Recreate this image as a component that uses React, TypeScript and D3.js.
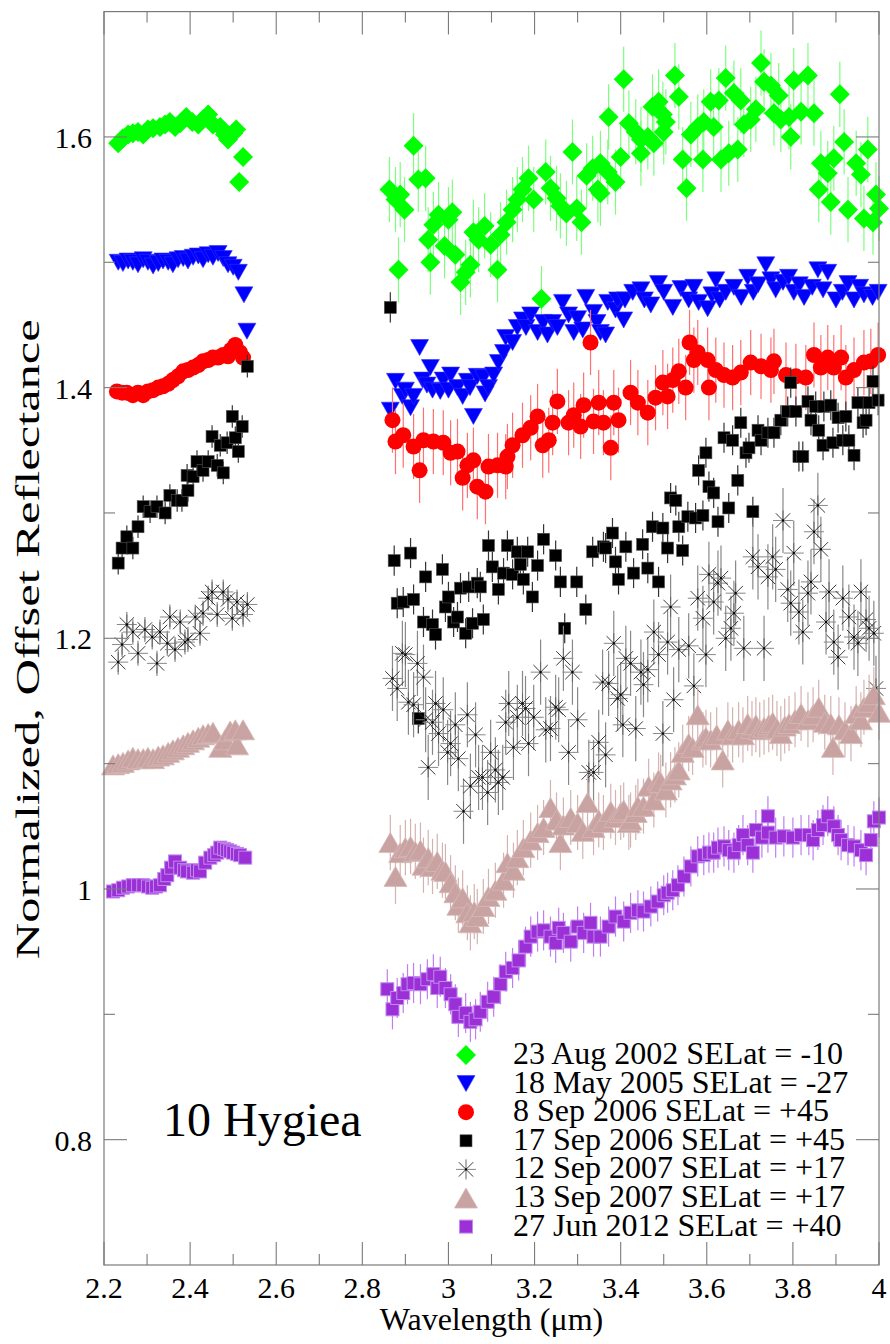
import React from 'react';
import * as d3 from 'd3';

type P = [number, number];

// ---------- data (wavelength µm, normalized offset reflectance) ----------
const greenLeft: P[] = [
  [2.233, 1.595], [2.244, 1.599], [2.256, 1.602], [2.267, 1.603], [2.279, 1.604], [2.291, 1.602],
  [2.302, 1.606], [2.314, 1.607], [2.330, 1.608], [2.342, 1.610], [2.353, 1.612], [2.365, 1.608],
  [2.377, 1.611], [2.391, 1.616], [2.405, 1.612], [2.419, 1.610], [2.430, 1.614], [2.442, 1.618],
  [2.453, 1.610], [2.470, 1.608], [2.481, 1.602], [2.488, 1.598], [2.500, 1.603], [2.507, 1.606],
  [2.523, 1.584], [2.514, 1.564],
];
const greenRight: P[] = [
  [2.863, 1.558], [2.877, 1.550], [2.888, 1.554], [2.898, 1.542], [2.884, 1.494], [2.919, 1.593],
  [2.930, 1.566], [2.947, 1.567], [2.958, 1.500], [2.953, 1.518], [2.965, 1.530], [2.977, 1.538],
  [2.991, 1.513], [3.000, 1.534], [3.009, 1.540], [3.016, 1.506], [3.028, 1.484], [3.040, 1.492],
  [3.051, 1.498], [3.058, 1.524], [3.070, 1.518], [3.084, 1.529], [3.098, 1.514], [3.114, 1.494],
  [3.121, 1.522], [3.135, 1.532], [3.149, 1.542], [3.160, 1.550], [3.172, 1.558], [3.186, 1.567],
  [3.198, 1.550], [3.216, 1.471], [3.226, 1.572], [3.237, 1.559], [3.251, 1.551], [3.260, 1.545],
  [3.274, 1.539], [3.288, 1.588], [3.298, 1.543], [3.309, 1.532], [3.321, 1.569], [3.335, 1.575],
  [3.347, 1.558], [3.353, 1.579], [3.353, 1.555], [3.370, 1.572], [3.372, 1.616], [3.388, 1.564],
  [3.400, 1.584], [3.407, 1.646], [3.419, 1.611], [3.435, 1.604], [3.447, 1.598], [3.447, 1.587],
  [3.463, 1.600], [3.474, 1.624], [3.477, 1.595], [3.488, 1.628], [3.498, 1.618], [3.500, 1.604],
  [3.505, 1.612], [3.526, 1.649], [3.535, 1.632], [3.544, 1.582], [3.553, 1.559], [3.563, 1.602],
  [3.579, 1.608], [3.591, 1.582], [3.593, 1.612], [3.609, 1.628], [3.616, 1.608], [3.628, 1.629],
  [3.633, 1.582], [3.644, 1.647], [3.651, 1.587], [3.663, 1.635], [3.672, 1.590], [3.679, 1.629],
  [3.686, 1.610], [3.702, 1.614], [3.714, 1.622], [3.726, 1.659], [3.733, 1.644], [3.749, 1.641],
  [3.756, 1.619], [3.767, 1.633], [3.772, 1.614], [3.791, 1.616], [3.795, 1.600], [3.802, 1.645],
  [3.819, 1.620], [3.835, 1.649], [3.849, 1.619], [3.860, 1.558], [3.865, 1.579], [3.881, 1.571],
  [3.888, 1.548], [3.895, 1.583], [3.909, 1.634], [3.919, 1.596], [3.928, 1.542], [3.947, 1.579],
  [3.958, 1.570], [3.965, 1.535], [3.974, 1.590], [3.986, 1.532], [3.993, 1.554], [4.000, 1.543],
];

const blueLeft: P[] = [
  [2.233, 1.500], [2.244, 1.499], [2.256, 1.501], [2.267, 1.500], [2.279, 1.498], [2.291, 1.502],
  [2.302, 1.500], [2.314, 1.497], [2.326, 1.499], [2.337, 1.501], [2.349, 1.500], [2.360, 1.498],
  [2.372, 1.502], [2.384, 1.503], [2.395, 1.501], [2.407, 1.504], [2.419, 1.505], [2.430, 1.502],
  [2.442, 1.506], [2.453, 1.504], [2.465, 1.507], [2.477, 1.503], [2.488, 1.498], [2.500, 1.496],
  [2.512, 1.492], [2.525, 1.474], [2.532, 1.445],
];
const blueRight: P[] = [
  [2.865, 1.382], [2.877, 1.405], [2.893, 1.393], [2.900, 1.398], [2.912, 1.384], [2.919, 1.393],
  [2.933, 1.432], [2.940, 1.406], [2.950, 1.402], [2.958, 1.416], [2.963, 1.398], [2.981, 1.397],
  [2.988, 1.406], [3.000, 1.398], [3.005, 1.410], [3.021, 1.400], [3.033, 1.393], [3.044, 1.405],
  [3.050, 1.400], [3.058, 1.377], [3.067, 1.409], [3.081, 1.408], [3.085, 1.395], [3.093, 1.400],
  [3.105, 1.410], [3.116, 1.420], [3.128, 1.428], [3.133, 1.440], [3.149, 1.436], [3.160, 1.448],
  [3.172, 1.454], [3.180, 1.448], [3.191, 1.458], [3.207, 1.444], [3.220, 1.452], [3.230, 1.442],
  [3.242, 1.452], [3.253, 1.448], [3.265, 1.468], [3.279, 1.458], [3.291, 1.444], [3.300, 1.455],
  [3.312, 1.446], [3.319, 1.472], [3.337, 1.460], [3.345, 1.452], [3.353, 1.444], [3.365, 1.442],
  [3.370, 1.468], [3.388, 1.462], [3.393, 1.470], [3.407, 1.454], [3.410, 1.470], [3.428, 1.476],
  [3.447, 1.478], [3.455, 1.470], [3.470, 1.466], [3.488, 1.483], [3.500, 1.476], [3.521, 1.464],
  [3.540, 1.479], [3.558, 1.470], [3.570, 1.480], [3.581, 1.468], [3.602, 1.463], [3.612, 1.474],
  [3.621, 1.486], [3.630, 1.470], [3.644, 1.476], [3.663, 1.480], [3.680, 1.472], [3.695, 1.488],
  [3.708, 1.476], [3.719, 1.482], [3.737, 1.498], [3.749, 1.486], [3.760, 1.478], [3.777, 1.484],
  [3.790, 1.488], [3.802, 1.476], [3.815, 1.482], [3.826, 1.472], [3.845, 1.480], [3.858, 1.494],
  [3.870, 1.478], [3.881, 1.492], [3.900, 1.470], [3.915, 1.476], [3.928, 1.483], [3.942, 1.470],
  [3.955, 1.480], [3.965, 1.474], [3.985, 1.472], [3.998, 1.476],
];

const redLeft: P[] = [
  [2.230, 1.397], [2.242, 1.396], [2.253, 1.396], [2.267, 1.394], [2.279, 1.396], [2.291, 1.394],
  [2.302, 1.397], [2.314, 1.398], [2.326, 1.400], [2.337, 1.401], [2.349, 1.403], [2.360, 1.406],
  [2.372, 1.409], [2.384, 1.413], [2.395, 1.414], [2.407, 1.416], [2.419, 1.418], [2.430, 1.421],
  [2.442, 1.422], [2.453, 1.424], [2.465, 1.424], [2.477, 1.426], [2.488, 1.425], [2.495, 1.430],
  [2.505, 1.434], [2.516, 1.428], [2.523, 1.424],
];
const redRight: P[] = [
  [2.870, 1.374], [2.877, 1.357], [2.895, 1.362], [2.919, 1.353], [2.933, 1.334], [2.942, 1.358],
  [2.965, 1.357], [2.988, 1.356], [3.005, 1.348], [3.021, 1.349], [3.033, 1.328], [3.044, 1.338],
  [3.058, 1.342], [3.067, 1.321], [3.086, 1.317], [3.093, 1.337], [3.114, 1.338], [3.133, 1.337],
  [3.137, 1.345], [3.149, 1.354], [3.172, 1.362], [3.191, 1.368], [3.207, 1.377], [3.219, 1.354],
  [3.233, 1.358], [3.242, 1.372], [3.253, 1.389], [3.279, 1.372], [3.291, 1.378], [3.307, 1.369],
  [3.314, 1.386], [3.330, 1.436], [3.337, 1.373], [3.349, 1.388], [3.360, 1.372], [3.377, 1.352],
  [3.384, 1.388], [3.395, 1.374], [3.423, 1.396], [3.440, 1.388], [3.463, 1.380], [3.481, 1.392],
  [3.498, 1.404], [3.509, 1.393], [3.521, 1.406], [3.535, 1.413], [3.551, 1.400], [3.560, 1.436],
  [3.570, 1.422], [3.579, 1.428], [3.602, 1.422], [3.605, 1.400], [3.621, 1.414], [3.640, 1.410],
  [3.660, 1.408], [3.679, 1.412], [3.702, 1.420], [3.726, 1.417], [3.749, 1.414], [3.756, 1.421],
  [3.784, 1.410], [3.807, 1.409], [3.830, 1.408], [3.849, 1.426], [3.865, 1.416], [3.881, 1.424],
  [3.895, 1.416], [3.912, 1.424], [3.923, 1.408], [3.942, 1.414], [3.965, 1.420], [3.981, 1.421],
  [3.998, 1.426],
];

const blackLeft: P[] = [
  [2.233, 1.260], [2.242, 1.272], [2.253, 1.281], [2.267, 1.272], [2.279, 1.289], [2.291, 1.305],
  [2.307, 1.301], [2.323, 1.305], [2.342, 1.300], [2.353, 1.314], [2.370, 1.310], [2.381, 1.310],
  [2.393, 1.330], [2.395, 1.318], [2.407, 1.329], [2.416, 1.341], [2.430, 1.334], [2.442, 1.341],
  [2.451, 1.361], [2.463, 1.338], [2.470, 1.354], [2.477, 1.332], [2.486, 1.356], [2.498, 1.377],
  [2.505, 1.360], [2.512, 1.349], [2.521, 1.369], [2.533, 1.417],
];
const blackRight: P[] = [
  [2.865, 1.464], [2.874, 1.262], [2.881, 1.228], [2.895, 1.229], [2.912, 1.268], [2.919, 1.231],
  [2.930, 1.136], [2.942, 1.213], [2.947, 1.249], [2.963, 1.211], [2.970, 1.203], [2.986, 1.255],
  [2.993, 1.225], [3.000, 1.233], [3.012, 1.213], [3.021, 1.217], [3.028, 1.240], [3.040, 1.204],
  [3.047, 1.241], [3.056, 1.212], [3.067, 1.244], [3.074, 1.241], [3.081, 1.215], [3.093, 1.274],
  [3.102, 1.257], [3.116, 1.239], [3.128, 1.252], [3.137, 1.274], [3.149, 1.251], [3.160, 1.269],
  [3.167, 1.259], [3.174, 1.247], [3.184, 1.269], [3.195, 1.233], [3.207, 1.258], [3.221, 1.279],
  [3.249, 1.266], [3.260, 1.245], [3.270, 1.208], [3.298, 1.245], [3.319, 1.223], [3.335, 1.269],
  [3.360, 1.273], [3.365, 1.272], [3.381, 1.284], [3.388, 1.261], [3.395, 1.247], [3.412, 1.273],
  [3.430, 1.252], [3.451, 1.275], [3.463, 1.256], [3.474, 1.289], [3.488, 1.245], [3.498, 1.288],
  [3.509, 1.272], [3.516, 1.312], [3.528, 1.310], [3.535, 1.289], [3.544, 1.270], [3.556, 1.297],
  [3.574, 1.296], [3.581, 1.334], [3.591, 1.298], [3.598, 1.348], [3.605, 1.321], [3.616, 1.316],
  [3.626, 1.293], [3.640, 1.360], [3.651, 1.304], [3.660, 1.358], [3.672, 1.326], [3.679, 1.372],
  [3.691, 1.348], [3.698, 1.352], [3.707, 1.301], [3.719, 1.366], [3.726, 1.358], [3.742, 1.364],
  [3.756, 1.364], [3.772, 1.374], [3.788, 1.381], [3.795, 1.404], [3.807, 1.381], [3.814, 1.345],
  [3.823, 1.345], [3.835, 1.389], [3.842, 1.374], [3.853, 1.385], [3.860, 1.366], [3.872, 1.385],
  [3.888, 1.386], [3.870, 1.354], [3.893, 1.356], [3.905, 1.376], [3.916, 1.358], [3.923, 1.377],
  [3.930, 1.358], [3.942, 1.346], [3.951, 1.388], [3.963, 1.372], [3.970, 1.374], [3.977, 1.388],
  [3.986, 1.405], [3.998, 1.390],
];

const starLeft: P[] = [
  [2.233, 1.181], [2.242, 1.195], [2.253, 1.211], [2.267, 1.205], [2.279, 1.188], [2.295, 1.207],
  [2.312, 1.201], [2.323, 1.180], [2.330, 1.205], [2.347, 1.196], [2.353, 1.217], [2.365, 1.191],
  [2.377, 1.213], [2.388, 1.197], [2.395, 1.199], [2.412, 1.217], [2.423, 1.204], [2.430, 1.220],
  [2.442, 1.232], [2.451, 1.237], [2.463, 1.219], [2.477, 1.237], [2.488, 1.231], [2.498, 1.216],
  [2.509, 1.229], [2.523, 1.219], [2.533, 1.227],
];
const starRight: P[] = [
  [2.870, 1.168], [2.881, 1.160], [2.893, 1.188], [2.900, 1.187], [2.907, 1.149], [2.919, 1.147],
  [2.928, 1.180], [2.942, 1.169], [2.947, 1.135], [2.953, 1.097], [2.963, 1.133], [2.970, 1.148],
  [2.977, 1.124], [2.988, 1.143], [2.998, 1.109], [3.005, 1.116], [3.016, 1.131], [3.023, 1.104],
  [3.035, 1.062], [3.044, 1.139], [3.051, 1.082], [3.063, 1.123], [3.070, 1.089], [3.079, 1.089],
  [3.091, 1.077], [3.098, 1.109], [3.109, 1.095], [3.116, 1.085], [3.126, 1.089], [3.133, 1.133],
  [3.140, 1.148], [3.151, 1.113], [3.160, 1.137], [3.172, 1.148], [3.179, 1.144], [3.186, 1.116],
  [3.198, 1.137], [3.214, 1.173], [3.226, 1.127], [3.237, 1.128], [3.249, 1.145], [3.256, 1.143],
  [3.267, 1.184], [3.279, 1.109], [3.288, 1.173], [3.300, 1.135], [3.326, 1.093], [3.337, 1.093],
  [3.349, 1.117], [3.358, 1.165], [3.365, 1.107], [3.372, 1.164], [3.384, 1.196], [3.393, 1.152],
  [3.400, 1.155], [3.405, 1.131], [3.412, 1.184], [3.423, 1.180], [3.435, 1.128], [3.447, 1.173],
  [3.453, 1.163], [3.463, 1.175], [3.477, 1.205], [3.488, 1.187], [3.498, 1.124], [3.509, 1.197],
  [3.516, 1.225], [3.523, 1.151], [3.535, 1.191], [3.558, 1.194], [3.570, 1.162], [3.579, 1.232],
  [3.591, 1.216], [3.598, 1.187], [3.605, 1.251], [3.616, 1.229], [3.626, 1.244], [3.633, 1.248],
  [3.644, 1.200], [3.656, 1.208], [3.663, 1.220], [3.667, 1.236], [3.686, 1.192], [3.707, 1.265],
  [3.719, 1.257], [3.733, 1.192], [3.742, 1.249], [3.753, 1.265], [3.760, 1.255], [3.777, 1.294],
  [3.788, 1.239], [3.795, 1.228], [3.802, 1.268], [3.814, 1.221], [3.823, 1.205], [3.835, 1.236],
  [3.842, 1.245], [3.849, 1.285], [3.858, 1.306], [3.865, 1.271], [3.877, 1.213], [3.884, 1.237],
  [3.895, 1.197], [3.905, 1.185], [3.916, 1.232], [3.930, 1.217], [3.942, 1.201], [3.951, 1.196],
  [3.958, 1.237], [3.970, 1.215], [3.977, 1.208], [3.988, 1.204], [3.993, 1.160],
];

const pinkLeft: P[] = [
  [2.221, 1.099], [2.233, 1.100], [2.244, 1.101], [2.256, 1.103], [2.267, 1.105], [2.279, 1.104],
  [2.291, 1.104], [2.302, 1.105], [2.314, 1.104], [2.326, 1.106], [2.337, 1.107], [2.349, 1.109],
  [2.360, 1.111], [2.372, 1.113], [2.384, 1.115], [2.395, 1.117], [2.407, 1.119], [2.419, 1.121],
  [2.430, 1.123], [2.442, 1.124], [2.453, 1.125], [2.470, 1.113], [2.481, 1.119], [2.493, 1.126],
  [2.505, 1.127], [2.509, 1.115], [2.523, 1.127],
];
const pinkRight: P[] = [
  [2.865, 1.037], [2.877, 1.010], [2.888, 1.029], [2.900, 1.033], [2.912, 1.034], [2.923, 1.030],
  [2.935, 1.031], [2.942, 1.019], [2.953, 1.025], [2.963, 1.018], [2.974, 1.022], [2.986, 1.015],
  [2.993, 1.014], [3.005, 1.005], [3.016, 0.997], [3.023, 0.987], [3.033, 0.993], [3.044, 0.981],
  [3.051, 0.973], [3.060, 0.982], [3.067, 0.978], [3.081, 0.986], [3.093, 0.994], [3.109, 0.999],
  [3.128, 1.007], [3.137, 1.021], [3.151, 1.015], [3.160, 1.025], [3.174, 1.033], [3.191, 1.039],
  [3.207, 1.045], [3.221, 1.049], [3.237, 1.065], [3.251, 1.055], [3.260, 1.037], [3.267, 1.051],
  [3.284, 1.057], [3.300, 1.053], [3.312, 1.046], [3.323, 1.069], [3.337, 1.049], [3.349, 1.055],
  [3.360, 1.053], [3.377, 1.062], [3.388, 1.057], [3.400, 1.061], [3.407, 1.063], [3.419, 1.053],
  [3.423, 1.055], [3.435, 1.061], [3.440, 1.066], [3.453, 1.066], [3.465, 1.082], [3.477, 1.071],
  [3.488, 1.087], [3.493, 1.085], [3.505, 1.079], [3.516, 1.087], [3.526, 1.091], [3.535, 1.095],
  [3.544, 1.109], [3.558, 1.116], [3.567, 1.113], [3.579, 1.139], [3.591, 1.119], [3.598, 1.121],
  [3.609, 1.119], [3.623, 1.123], [3.637, 1.103], [3.649, 1.127], [3.660, 1.123], [3.674, 1.127],
  [3.684, 1.123], [3.695, 1.132], [3.705, 1.128], [3.714, 1.131], [3.723, 1.127], [3.733, 1.129],
  [3.744, 1.131], [3.753, 1.133], [3.763, 1.128], [3.772, 1.124], [3.781, 1.130], [3.791, 1.132],
  [3.805, 1.135], [3.819, 1.140], [3.835, 1.135], [3.847, 1.139], [3.860, 1.145], [3.874, 1.133],
  [3.888, 1.132], [3.893, 1.113], [3.907, 1.131], [3.921, 1.127], [3.935, 1.124], [3.947, 1.140],
  [3.958, 1.135], [3.965, 1.145], [3.977, 1.149], [3.988, 1.155], [4.000, 1.141],
];

const purpleLeft: P[] = [
  [2.221, 0.998], [2.233, 0.999], [2.244, 1.001], [2.256, 1.002], [2.267, 1.003], [2.279, 1.003],
  [2.291, 1.003], [2.302, 1.002], [2.312, 1.001], [2.321, 1.002], [2.330, 1.003], [2.340, 1.008],
  [2.347, 1.011], [2.356, 1.017], [2.365, 1.022], [2.377, 1.017], [2.386, 1.015], [2.393, 1.014],
  [2.407, 1.013], [2.416, 1.015], [2.423, 1.014], [2.435, 1.021], [2.447, 1.025], [2.456, 1.027],
  [2.463, 1.029], [2.470, 1.033], [2.479, 1.032], [2.486, 1.031], [2.493, 1.030], [2.500, 1.029],
  [2.509, 1.028], [2.516, 1.027], [2.528, 1.025],
];
const purpleRight: P[] = [
  [2.858, 0.920], [2.870, 0.904], [2.881, 0.913], [2.895, 0.917], [2.905, 0.924], [2.919, 0.925],
  [2.935, 0.924], [2.951, 0.928], [2.965, 0.932], [2.974, 0.921], [2.981, 0.930], [2.993, 0.921],
  [3.005, 0.916], [3.016, 0.908], [3.023, 0.898], [3.040, 0.901], [3.051, 0.894], [3.063, 0.896],
  [3.074, 0.902], [3.091, 0.910], [3.105, 0.914], [3.121, 0.924], [3.133, 0.934], [3.149, 0.937],
  [3.163, 0.943], [3.179, 0.954], [3.191, 0.962], [3.207, 0.966], [3.221, 0.967], [3.237, 0.962],
  [3.249, 0.957], [3.256, 0.969], [3.267, 0.965], [3.284, 0.958], [3.300, 0.970], [3.314, 0.965],
  [3.330, 0.973], [3.337, 0.962], [3.353, 0.962], [3.372, 0.970], [3.388, 0.978], [3.407, 0.974],
  [3.423, 0.981], [3.440, 0.983], [3.453, 0.982], [3.470, 0.986], [3.486, 0.990], [3.500, 0.995],
  [3.509, 0.997], [3.521, 0.999], [3.533, 1.003], [3.547, 1.010], [3.563, 1.018], [3.579, 1.026],
  [3.593, 1.027], [3.605, 1.029], [3.616, 1.029], [3.626, 1.033], [3.640, 1.034], [3.651, 1.031],
  [3.663, 1.029], [3.674, 1.035], [3.684, 1.043], [3.695, 1.035], [3.707, 1.029], [3.714, 1.047],
  [3.728, 1.041], [3.742, 1.058], [3.742, 1.045], [3.760, 1.041], [3.779, 1.042], [3.800, 1.041],
  [3.819, 1.043], [3.837, 1.043], [3.847, 1.039], [3.858, 1.047], [3.870, 1.051], [3.881, 1.058],
  [3.895, 1.050], [3.905, 1.043], [3.912, 1.039], [3.928, 1.035], [3.942, 1.034], [3.958, 1.031],
  [3.970, 1.027], [3.981, 1.039], [3.988, 1.054], [4.000, 1.057],
];

// half-length of the vertical error bars: [short-wave segment, long-wave segment]
const errGreen = [0.004, 0.026];
const errBlue = [0.002, 0.006];
const errRed = [0.004, 0.026];
const errBlack = [0.009, 0.012];
const errStar = [0.01, 0.026];
const errPink = [0.004, 0.022];
const errPurple = [0.004, 0.016];

const legendLabels = [
  '23 Aug 2002 SELat = -10',
  '18 May 2005 SELat = -27',
  '8 Sep 2006 SELat = +45',
  '17 Sep 2006 SELat = +45',
  '12 Sep 2007 SELat = +17',
  '13 Sep 2007 SELat = +17',
  '27 Jun 2012 SELat = +40',
];

const xMajorTicks = [2.2, 2.4, 2.6, 2.8, 3.0, 3.2, 3.4, 3.6, 3.8, 4.0];
const xMinorTicks = [2.3, 2.5, 2.7, 2.9, 3.1, 3.3, 3.5, 3.7, 3.9];
const yMajorTicks = [0.8, 1.0, 1.2, 1.4, 1.6];
const yMinorTicks = [0.9, 1.1, 1.3, 1.5];

// ---------- layout ----------
const W = 890;
const H = 1344;
const L = 104, R = 879, T = 11.6, B = 1265;
const FONT = "'Liberation Serif', 'Times New Roman', 'DejaVu Serif', serif";

type Kind = 'diamond' | 'tridown' | 'circle' | 'square' | 'star' | 'triup' | 'psquare';

interface Style { kind: Kind; fill: string; stroke: string; err: string; }

const styles: Style[] = [
  { kind: 'diamond', fill: '#00ff00', stroke: 'none', err: '#7dff7d' },
  { kind: 'tridown', fill: '#0000ff', stroke: '#3030ff', err: '#8080ff' },
  { kind: 'circle', fill: '#ff0000', stroke: 'none', err: '#ff7070' },
  { kind: 'square', fill: '#000000', stroke: '#555', err: '#333' },
  { kind: 'star', fill: 'none', stroke: '#222', err: '#888' },
  { kind: 'triup', fill: '#c8a3a1', stroke: '#d6b9b8', err: '#d4b2b0' },
  { kind: 'psquare', fill: '#9a30d6', stroke: '#c28af0', err: '#c07ef0' },
];

function Marker({ kind, cx, cy, s }: { kind: Kind; cx: number; cy: number; s: Style }) {
  switch (kind) {
    case 'diamond': {
      const r = 10;
      return <path d={`M${cx},${cy - r}L${cx + r},${cy}L${cx},${cy + r}L${cx - r},${cy}Z`} fill={s.fill} />;
    }
    case 'tridown': {
      const w = 18, h = 16;
      return <path d={`M${cx - w / 2},${cy - h / 2}L${cx + w / 2},${cy - h / 2}L${cx},${cy + h / 2}Z`} fill={s.fill} stroke={s.stroke} strokeWidth={0.6} />;
    }
    case 'circle':
      return <circle cx={cx} cy={cy} r={8} fill={s.fill} />;
    case 'square': {
      const a = 12;
      return <rect x={cx - a / 2} y={cy - a / 2} width={a} height={a} fill={s.fill} stroke={s.stroke} strokeWidth={0.6} />;
    }
    case 'star': {
      const r = 10, d = r * 0.72;
      return (
        <g>
          <line x1={cx} y1={cy - r} x2={cx} y2={cy + r} stroke="#666" strokeWidth={1} />
          <line x1={cx - r} y1={cy} x2={cx + r} y2={cy} stroke="#888" strokeWidth={1} />
          <line x1={cx - d} y1={cy - d} x2={cx + d} y2={cy + d} stroke="#222" strokeWidth={0.9} />
          <line x1={cx - d} y1={cy + d} x2={cx + d} y2={cy - d} stroke="#222" strokeWidth={0.9} />
          <rect x={cx - 1} y={cy - 1} width={2} height={2} fill="#000" />
        </g>
      );
    }
    case 'triup': {
      const w = 23, h = 20;
      return <path d={`M${cx - w / 2},${cy + h / 2}L${cx + w / 2},${cy + h / 2}L${cx},${cy - h / 2}Z`} fill={s.fill} stroke={s.stroke} strokeWidth={0.8} />;
    }
    case 'psquare': {
      const a = 13;
      return <rect x={cx - a / 2} y={cy - a / 2} width={a} height={a} fill={s.fill} stroke={s.stroke} strokeWidth={1} />;
    }
  }
  return null;
}

const seriesData: { left: P[]; right: P[]; err: number[] }[] = [
  { left: greenLeft, right: greenRight, err: errGreen },
  { left: blueLeft, right: blueRight, err: errBlue },
  { left: redLeft, right: redRight, err: errRed },
  { left: blackLeft, right: blackRight, err: errBlack },
  { left: starLeft, right: starRight, err: errStar },
  { left: pinkLeft, right: pinkRight, err: errPink },
  { left: purpleLeft, right: purpleRight, err: errPurple },
];

export default function App() {
  const x = d3.scaleLinear().domain([2.2, 4.0]).range([L, R]);
  const y = d3.scaleLinear().domain([0.7, 1.7]).range([B, T]);
  const fmt = (v: number) => String(Number(v.toFixed(1)));
  const gray = '#7a7a7a';

  return (
    <svg width={W} height={H} style={{ position: 'absolute', left: 0, top: 0, background: '#fff' }} xmlns="http://www.w3.org/2000/svg">
      <rect x={0} y={0} width={W} height={H} fill="#fff" />

      {/* data */}
      {seriesData.map((sd, si) => {
        const st = styles[si];
        const pts = [
          ...sd.left.map((p) => ({ p, e: sd.err[0] })),
          ...sd.right.map((p) => ({ p, e: sd.err[1] })),
        ];
        return (
          <g key={si}>
            {pts.map(({ p, e }, i) => (
              <line key={'e' + i} x1={x(p[0])} x2={x(p[0])} y1={y(p[1] - e)} y2={y(p[1] + e)} stroke={st.err} strokeWidth={1.2} />
            ))}
            {pts.map(({ p }, i) => (
              <Marker key={'m' + i} kind={st.kind} cx={x(p[0])} cy={y(p[1])} s={st} />
            ))}
          </g>
        );
      })}

      {/* frame */}
      <rect x={L} y={T} width={R - L} height={B - T} fill="none" stroke={gray} strokeWidth={1.2} />
      {xMajorTicks.map((v) => (
        <g key={'xM' + v}>
          <line x1={x(v)} x2={x(v)} y1={B} y2={B - 23} stroke={gray} strokeWidth={1.1} />
          <line x1={x(v)} x2={x(v)} y1={T} y2={T + 23} stroke={gray} strokeWidth={1.1} />
          <text x={x(v)} y={1298} fontSize={30} fontFamily={FONT} textAnchor="middle" fill="#000">{fmt(v)}</text>
        </g>
      ))}
      {xMinorTicks.map((v) => (
        <g key={'xm' + v}>
          <line x1={x(v)} x2={x(v)} y1={B} y2={B - 11} stroke={gray} strokeWidth={1.1} />
          <line x1={x(v)} x2={x(v)} y1={T} y2={T + 11} stroke={gray} strokeWidth={1.1} />
        </g>
      ))}
      {yMajorTicks.map((v) => (
        <g key={'yM' + v}>
          <line x1={L} x2={L + 23} y1={y(v)} y2={y(v)} stroke={gray} strokeWidth={1.1} />
          <line x1={R} x2={R - 23} y1={y(v)} y2={y(v)} stroke={gray} strokeWidth={1.1} />
          <text x={92} y={y(v) + 11} fontSize={30} fontFamily={FONT} textAnchor="end" fill="#000">{fmt(v)}</text>
        </g>
      ))}
      {yMinorTicks.map((v) => (
        <g key={'ym' + v}>
          <line x1={L} x2={L + 11} y1={y(v)} y2={y(v)} stroke={gray} strokeWidth={1.1} />
          <line x1={R} x2={R - 11} y1={y(v)} y2={y(v)} stroke={gray} strokeWidth={1.1} />
        </g>
      ))}

      {/* axis titles */}
      <text x={(L + R) / 2} y={1330} fontSize={32} fontFamily={FONT} textAnchor="middle" fill="#000">Wavelength (μm)</text>
      <text transform={`translate(39,${(T + B) / 2 + 1}) rotate(-90)`} fontSize={34} fontFamily={FONT} textAnchor="middle" fill="#000"
        textLength={640} lengthAdjust="spacingAndGlyphs">
        Normalized, Offset Reflectance
      </text>

      <text x={163} y={1136} fontSize={48} fontFamily={FONT} fill="#000">10 Hygiea</text>

      {/* legend */}
      {legendLabels.map((lab, i) => {
        const cy = 1055 + i * 28.6;
        return (
          <g key={'lg' + i}>
            <Marker kind={styles[i].kind} cx={466} cy={cy} s={styles[i]} />
            <text x={513} y={cy + 9} fontSize={32} fontFamily={FONT} fill="#000">{lab}</text>
          </g>
        );
      })}
    </svg>
  );
}
